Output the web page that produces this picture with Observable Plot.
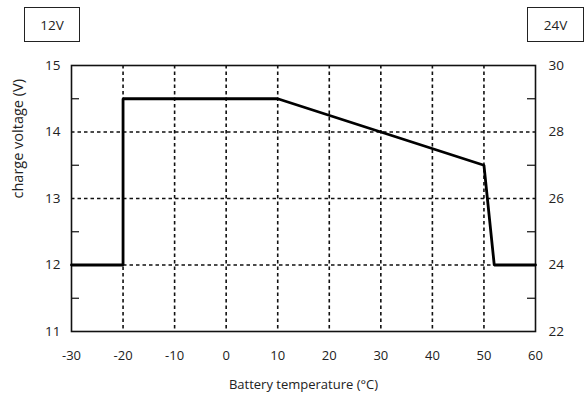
<!DOCTYPE html>
<html>
<head>
<meta charset="utf-8">
<script src="https://cdn.jsdelivr.net/npm/d3@7"></script>
<script src="https://cdn.jsdelivr.net/npm/@observablehq/plot@0.6"></script>
<style>
  html, body { margin: 0; padding: 0; background: #fff; }
  #wrap { position: relative; width: 588px; height: 398px; font-family: "Open Sans", sans-serif; }
  .box { position: absolute; top: 7px; height: 35px; border: 1px solid #222; box-sizing: border-box;
         display: flex; align-items: center; justify-content: center; font-size: 13.5px; color: #222; }
  #wrap svg { position: absolute; left: 0; top: 0; }
</style>
</head>
<body>
<div id="wrap">
  <div class="box" style="left:24px;width:56px;">12V</div>
  <div class="box" style="left:527px;width:57px;">24V</div>
</div>
<script>
// Curve (12 V system)
const temperature = [-30, -20, -20, 10, 50, 52, 60];
const voltage12 = [12, 12, 14.5, 14.5, 13.5, 12, 12];
// Axis ticks
const xTicks = [-30, -20, -10, 0, 10, 20, 30, 40, 50, 60];
const leftTicks = [11, 12, 13, 14, 15];
const rightTicks = [22, 24, 26, 28, 30];
const minorTicks = [11.5, 12.5, 13.5, 14.5];
const xGrid = [-20, -10, 0, 10, 20, 30, 40, 50];
const yGrid = [12, 13, 14];
const yLabel = "charge voltage (V)";
const xLabel = "Battery temperature (°C)";

const curve = temperature.map((t, i) => ({t, v: voltage12[i]}));
const tickLen = 8 / ((588 - 71 - 53) / 90);

const chart = Plot.plot({
  width: 588,
  height: 398,
  marginLeft: 71,
  marginRight: 53,
  marginTop: 65,
  marginBottom: 67,
  style: {fontFamily: "Open Sans, sans-serif", fontSize: "13px", color: "#222", background: "transparent"},
  x: {domain: [-30, 60]},
  y: {domain: [11, 15]},
  marks: [
    Plot.ruleX(xGrid, {stroke: "#111", strokeWidth: 1.6, strokeDasharray: "3.5,3"}),
    Plot.ruleY(yGrid, {stroke: "#111", strokeWidth: 1.6, strokeDasharray: "3.5,3"}),
    Plot.ruleY(minorTicks, {x1: -30, x2: -30 + tickLen, stroke: "#111", strokeWidth: 1.2}),
    Plot.ruleY(minorTicks, {x1: 60 - tickLen, x2: 60, stroke: "#111", strokeWidth: 1.2}),
    Plot.frame({stroke: "#111", strokeWidth: 1.6}),
    Plot.line(curve, {x: "t", y: "v", stroke: "#000", strokeWidth: 2.8, strokeLinejoin: "miter"}),
    Plot.axisX({ticks: xTicks, tickSize: 0, tickPadding: 19, tickFormat: d => String(d),
      label: xLabel, labelAnchor: "center", labelArrow: "none", labelOffset: 57,
      fontSize: 13}),
    Plot.axisY({ticks: leftTicks, tickSize: 0, tickPadding: 11, anchor: "left", fontSize: 13.5,
      tickFormat: d => String(d), label: null}),
    Plot.axisY({ticks: leftTicks, tickSize: 0, tickPadding: 13, anchor: "right", fontSize: 13.5,
      tickFormat: (d, i) => String(rightTicks[i]), label: null}),
    Plot.text([yLabel], {text: d => d, frameAnchor: "left", dx: -53, rotate: -90,
      fontSize: 14.5, fill: "#222"})
  ]
});
document.getElementById("wrap").appendChild(chart);
</script>
</body>
</html>
